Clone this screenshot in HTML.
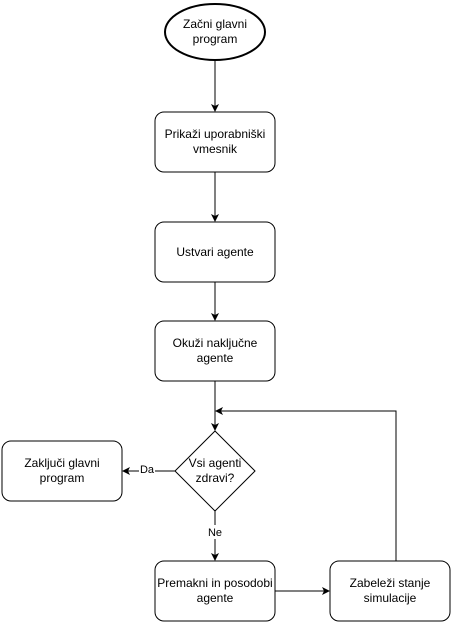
<!DOCTYPE html>
<html><head><meta charset="utf-8"><style>
html,body{margin:0;padding:0;background:#fff;}
svg text{font-family:"Liberation Sans",sans-serif;font-size:12px;fill:#000;}
</style></head><body>
<svg width="451" height="622" viewBox="0 0 451 622" xmlns="http://www.w3.org/2000/svg">
<defs><marker id="a" markerWidth="8" markerHeight="8" refX="7" refY="4" orient="auto" markerUnits="userSpaceOnUse"><path d="M0,0 L8,4 L0,8 L2,4 z" fill="#000"/></marker></defs>
<g fill="#fff" stroke="#000" stroke-width="1">
<ellipse cx="215" cy="32" rx="50" ry="28" stroke-width="2"/>
<rect x="155" y="112" width="120" height="60" rx="9"/>
<rect x="155" y="222" width="120" height="60" rx="9"/>
<rect x="155" y="321" width="120" height="60" rx="9"/>
<polygon points="215,431 255,471 215,511 175,471"/>
<rect x="2" y="441" width="120" height="60" rx="9"/>
<rect x="155" y="561" width="120" height="60" rx="9"/>
<rect x="330" y="561" width="120" height="60" rx="9"/>
</g>
<g stroke="#000" fill="none" stroke-width="1">
<line x1="215" y1="61" x2="215" y2="111" marker-end="url(#a)"/>
<line x1="215" y1="172" x2="215" y2="221" marker-end="url(#a)"/>
<line x1="215" y1="282" x2="215" y2="320" marker-end="url(#a)"/>
<line x1="215" y1="381" x2="215" y2="430" marker-end="url(#a)"/>
<line x1="175" y1="471" x2="123" y2="471" marker-end="url(#a)"/>
<line x1="215" y1="511" x2="215" y2="560" marker-end="url(#a)"/>
<line x1="275" y1="591" x2="329" y2="591" marker-end="url(#a)"/>
<polyline points="396,561 396,411 216,411" marker-end="url(#a)"/>
</g>
<rect x="139" y="462" width="16" height="14" fill="#fff"/>
<rect x="205" y="525" width="20" height="14" fill="#fff"/>
<g text-anchor="middle">
<text x="215" y="28">Začni glavni</text><text x="215" y="43">program</text>
<text x="215" y="138">Prikaži uporabniški</text><text x="215" y="153">vmesnik</text>
<text x="215" y="256">Ustvari agente</text>
<text x="215" y="347">Okuži naključne</text><text x="215" y="362">agente</text>
<text x="215" y="467">Vsi agenti</text><text x="215" y="482">zdravi?</text>
<text x="62" y="467">Zaključi glavni</text><text x="62" y="482">program</text>
<text x="215" y="587">Premakni in posodobi</text><text x="215" y="602">agente</text>
<text x="390" y="587">Zabeleži stanje</text><text x="390" y="602">simulacije</text>
<text x="147" y="473" style="font-size:11px">Da</text>
<text x="215" y="536" style="font-size:11px">Ne</text>
</g>
</svg>
</body></html>
